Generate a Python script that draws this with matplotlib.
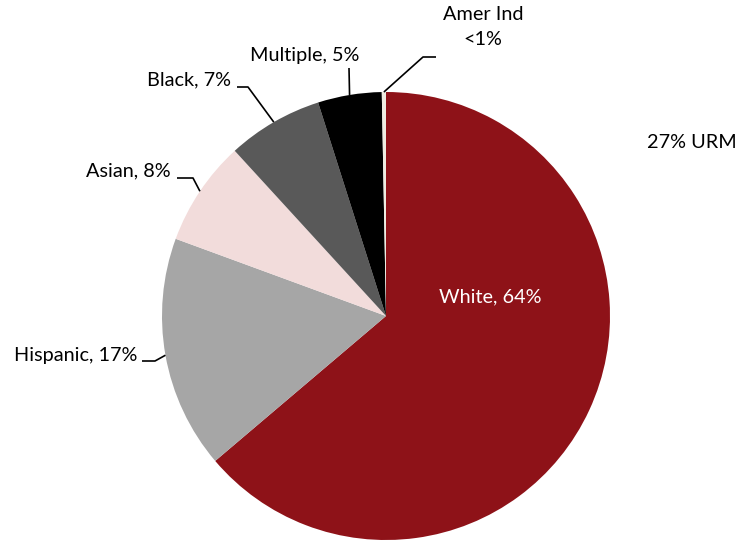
import numpy as np
import matplotlib.pyplot as plt

plt.rcParams['font.family'] = ['Lato', 'DejaVu Sans']

# data
groups = ['White', 'Hispanic', 'Asian', 'Black', 'Multiple', 'Amer Ind']
shares = [63.8, 16.8, 7.6, 6.9, 4.6, 0.3]
labels = ['White, 64%', 'Hispanic, 17%', 'Asian, 8%', 'Black, 7%', 'Multiple, 5%', 'Amer Ind\n<1%']
colors = ['#8E1218', '#A6A6A6', '#F2DCDB', '#595959', '#000000', '#EEECE1']
urm_note = '27% URM'

W, H = 750, 542
fig = plt.figure(figsize=(7.5, 5.42), dpi=100)
ax = fig.add_axes([0, 0, 1, 1])

cx, cy, r = 386, H - 316, 224
wedges, _ = ax.pie(shares, colors=colors, startangle=90, counterclock=False,
                   center=(cx, cy), radius=r, frame=True,
                   wedgeprops=dict(linewidth=0))
ax.set_xlim(0, W)
ax.set_ylim(0, H)
ax.set_aspect('equal')
ax.axis('off')

fs = 14.3

# label layout in pixel coords (y from top): elbow, line end, text pos, alignment
layout = {
    'Hispanic': ((155, 361), (142, 361), (137, 355), 'right'),
    'Asian': ((193, 178), (177, 178), (171, 171), 'right'),
    'Black': ((248, 87), (237, 87), (231, 80), 'right'),
    'Multiple': ((349, 68), (349, 68), (305, 56), 'center'),
    'Amer Ind': ((423, 57), (436, 57), (483, 27), 'center'),
}

for w, g, lab in zip(wedges, groups, labels):
    if g == 'White':
        ax.text(490, H - 297, lab, color='white', fontsize=fs, ha='center', va='center')
        continue
    mid = np.deg2rad((w.theta1 + w.theta2) / 2)
    ex, ey = cx + r * np.cos(mid), cy + r * np.sin(mid)
    (bx, by), (tx, ty), (lx, ly), ha = layout[g]
    ax.plot([ex, bx, tx], [ey, H - by, H - ty], color='black', lw=1.2,
            solid_capstyle='butt', zorder=3)
    ax.text(lx, H - ly, lab, fontsize=fs, ha=ha, va='center', linespacing=1.55)

ax.text(692, H - 143, urm_note, fontsize=fs, ha='center', va='center')

fig.savefig('out.png', dpi=100)
